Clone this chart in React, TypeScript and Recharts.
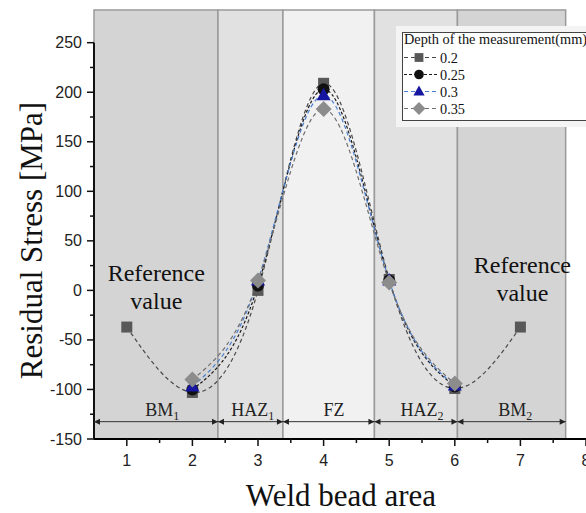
import React from "react";
import {
  ComposedChart,
  Line,
  XAxis,
  YAxis,
  ReferenceArea,
  ReferenceLine,
  ReferenceDot,
} from "recharts";

// positions along the weld bead and residual stress (MPa) per measuring depth
const positionsAll = [1, 2, 3, 4, 5, 6, 7];
const positionsWeld = [2, 3, 4, 5, 6];
const depth02 = [-37, -103, 0, 209, 11, -99, -37];
const depth025 = [-100, 5, 203, 10, -97];
const depth03 = [-97, 10, 197, 10, -96];
const depth035 = [-90, 10, 183, 8, -94];

// weld zones
const zoneNames = ["BM", "HAZ", "FZ", "HAZ", "BM"];
const zoneSubs = ["1", "1", "", "2", "2"];
const zoneEdges = [0.5, 2.39, 3.38, 4.775, 6.04, 7.69];
const zoneLabelX = [1.54, 2.92, 4.16, 5.5, 6.92];

const xTicks = [1, 1.5, 2, 2.5, 3, 3.5, 4, 4.5, 5, 5.5, 6, 6.5, 7, 7.5, 8];
const yTicks = [
  -150, -125, -100, -75, -50, -25, 0, 25, 50, 75, 100, 125, 150, 175, 200, 225, 250,
];

const refNoteX = [1.45, 7.03];

const zoneFills = ["#d4d4d4", "#e1e1e1", "#f1f1f1", "#e1e1e1", "#d4d4d4"];
const SERIF = "'Liberation Serif', 'Times New Roman', serif";
const SANS = "'Liberation Sans', Arial, sans-serif";
const ARROW_Y = -132.5;
const ZONE_LABEL_Y = -127;

type Kind = "square" | "circle" | "triangle" | "diamond";

const series = [
  { name: "0.2", xs: positionsAll, ys: depth02, stroke: "#4a4a4a", dash: "4 3", kind: "square" as Kind, fill: "#585858" },
  { name: "0.25", xs: positionsWeld, ys: depth025, stroke: "#1a1a1a", dash: "3 2", kind: "circle" as Kind, fill: "#111" },
  { name: "0.3", xs: positionsWeld, ys: depth03, stroke: "#4a7fd0", dash: "4 3", kind: "triangle" as Kind, fill: "#1616a0" },
  { name: "0.35", xs: positionsWeld, ys: depth035, stroke: "#6e6e6e", dash: "4 3", kind: "diamond" as Kind, fill: "#8c8c8c" },
];

function Marker({ kind, cx, cy, fill, s = 1 }: { kind: Kind; cx: number; cy: number; fill: string; s?: number }) {
  if (kind === "square") return <rect x={cx - 5.5 * s} y={cy - 5.5 * s} width={11 * s} height={11 * s} fill={fill} />;
  if (kind === "circle") return <circle cx={cx} cy={cy} r={6 * s} fill={fill} />;
  if (kind === "triangle")
    return <polygon points={`${cx},${cy - 7.5 * s} ${cx - 7 * s},${cy + 5 * s} ${cx + 7 * s},${cy + 5 * s}`} fill={fill} />;
  return <polygon points={`${cx},${cy - 8 * s} ${cx + 8 * s},${cy} ${cx},${cy + 8 * s} ${cx - 8 * s},${cy}`} fill={fill} />;
}

const XTick = (props: any) => {
  const { x, y, payload } = props;
  const major = Number.isInteger(payload.value);
  return (
    <g>
      <line x1={x} x2={x} y1={y} y2={y + (major ? 7 : 4)} stroke="#111" strokeWidth={1.5} />
      {major && (
        <text x={x} y={y + 27} textAnchor="middle" fontSize={16} fontFamily={SANS} fill="#222">
          {payload.value}
        </text>
      )}
    </g>
  );
};

const YTick = (props: any) => {
  const { x, y, payload } = props;
  const major = payload.value % 50 === 0;
  return (
    <g>
      <line x1={x} x2={x - (major ? 7 : 4)} y1={y} y2={y} stroke="#111" strokeWidth={1.5} />
      {major && (
        <text x={x - 12} y={y + 5.5} textAnchor="end" fontSize={16} fontFamily={SANS} fill="#222">
          {payload.value}
        </text>
      )}
    </g>
  );
};

const Arrow = (p: any) => {
  const { x1, x2, y1 } = p;
  const h = 6;
  const w = 3;
  return (
    <g>
      <line x1={x1} x2={x2} y1={y1} y2={y1} stroke="#333" strokeWidth={1} />
      <polygon points={`${x1},${y1} ${x1 + h},${y1 - w} ${x1 + h},${y1 + w}`} fill="#222" />
      <polygon points={`${x2},${y1} ${x2 - h},${y1 - w} ${x2 - h},${y1 + w}`} fill="#222" />
    </g>
  );
};

function DepthLegend() {
  return (
    <svg width={190} height={101} style={{ position: "absolute", left: 396, top: 26 }}>
      <rect x={0} y={0} width={190} height={101} fill="#f4f4f4" />
      <rect x={6.5} y={6.5} width={190} height={88} fill="#fff" stroke="#444" strokeWidth={1} />
      <text x={8} y={18} fontSize={14.3} fontFamily={SERIF} fill="#111">
        Depth of the measurement(mm)
      </text>
      {series.map((s, i) => {
        const base = 36.5 + i * 17;
        const cy = base - 5;
        return (
          <g key={s.name}>
            <line x1={8} x2={43} y1={cy} y2={cy} stroke={s.stroke} strokeDasharray={s.dash} strokeWidth={1.2} />
            <Marker kind={s.kind} cx={23} cy={cy} fill={s.fill} s={0.8} />
            <text x={44} y={base} fontSize={14.3} fontFamily={SERIF} fill="#111">
              {s.name}
            </text>
          </g>
        );
      })}
    </svg>
  );
}

export default function App() {
  return (
    <div style={{ position: "absolute", left: 0, top: 0, width: 586, height: 513, background: "#fff" }}>
      <ComposedChart width={586} height={513} margin={{ top: 10, right: 0, left: 0, bottom: 0 }}>
        <XAxis
          type="number"
          dataKey="x"
          domain={[0.5, 8]}
          ticks={xTicks}
          interval={0}
          allowDataOverflow
          height={74}
          tickSize={0}
          tickMargin={0}
          tickLine={false}
          axisLine={{ stroke: "#000", strokeWidth: 2 }}
          tick={<XTick />}
          label={{
            content: (p: any) => {
              const vb = p.viewBox;
              return (
                <text x={vb.x + vb.width / 2 + 1} y={vb.y + 67} textAnchor="middle" fontSize={31} fontFamily={SERIF} fill="#111">
                  Weld bead area
                </text>
              );
            },
          }}
        />
        <YAxis
          type="number"
          dataKey="y"
          domain={[-150, 283]}
          ticks={yTicks}
          interval={0}
          allowDataOverflow
          width={94}
          tickSize={0}
          tickMargin={0}
          tickLine={false}
          axisLine={false}
          tick={<YTick />}
          label={{
            content: (p: any) => {
              const vb = p.viewBox;
              const cy = vb.y + vb.height / 2 + 16;
              return (
                <text
                  transform={`translate(${vb.x + 42}, ${cy}) rotate(-90)`}
                  textAnchor="middle"
                  fontSize={31}
                  fontFamily={SERIF}
                  fill="#111"
                >
                  Residual Stress [MPa]
                </text>
              );
            },
          }}
        />

        {zoneNames.map((n, i) => (
          <ReferenceArea
            key={"zone" + i}
            x1={zoneEdges[i]}
            x2={zoneEdges[i + 1]}
            y1={-150}
            y2={283}
            fill={zoneFills[i]}
            fillOpacity={1}
            stroke="#9a9a9a"
            strokeWidth={1.5}
            ifOverflow="visible"
          />
        ))}

        <ReferenceLine
          segment={[
            { x: 0.5, y: -150 },
            { x: 0.5, y: 250 },
          ]}
          stroke="#111"
          strokeWidth={2}
          ifOverflow="visible"
        />

        {zoneNames.map((n, i) => (
          <ReferenceLine
            key={"arrow" + i}
            segment={[
              { x: zoneEdges[i], y: ARROW_Y },
              { x: zoneEdges[i + 1], y: ARROW_Y },
            ]}
            ifOverflow="visible"
            shape={<Arrow />}
          />
        ))}

        {zoneNames.map((n, i) => (
          <ReferenceDot
            key={"zl" + i}
            x={zoneLabelX[i]}
            y={ZONE_LABEL_Y}
            r={0}
            ifOverflow="visible"
            shape={(p: any) => (
              <text x={p.cx} y={p.cy} textAnchor="middle" fontSize={18} fontFamily={SERIF} fill="#222">
                {n}
                {zoneSubs[i] && (
                  <tspan fontSize={12} dy={4}>
                    {zoneSubs[i]}
                  </tspan>
                )}
              </text>
            )}
          />
        ))}

        {refNoteX.map((xv, i) => (
          <ReferenceDot
            key={"ref" + i}
            x={xv}
            y={i === 0 ? 9 : 18}
            r={0}
            ifOverflow="visible"
            shape={(p: any) => (
              <text x={p.cx} y={p.cy} textAnchor="middle" fontSize={24} fontFamily={SERIF} fill="#111">
                <tspan x={p.cx}>Reference</tspan>
                <tspan x={p.cx} dy={28}>
                  value
                </tspan>
              </text>
            )}
          />
        ))}

        {series.map((s) => (
          <Line
            key={s.name}
            data={s.xs.map((x, i) => ({ x, y: s.ys[i] }))}
            dataKey="y"
            type="natural"
            stroke={s.stroke}
            strokeWidth={1.2}
            strokeDasharray={s.dash}
            isAnimationActive={false}
            dot={(p: any) =>
              p.cx == null ? <g key={p.index} /> : <Marker key={p.index} kind={s.kind} cx={p.cx} cy={p.cy} fill={s.fill} />
            }
            activeDot={false}
          />
        ))}
      </ComposedChart>
      <DepthLegend />
    </div>
  );
}
